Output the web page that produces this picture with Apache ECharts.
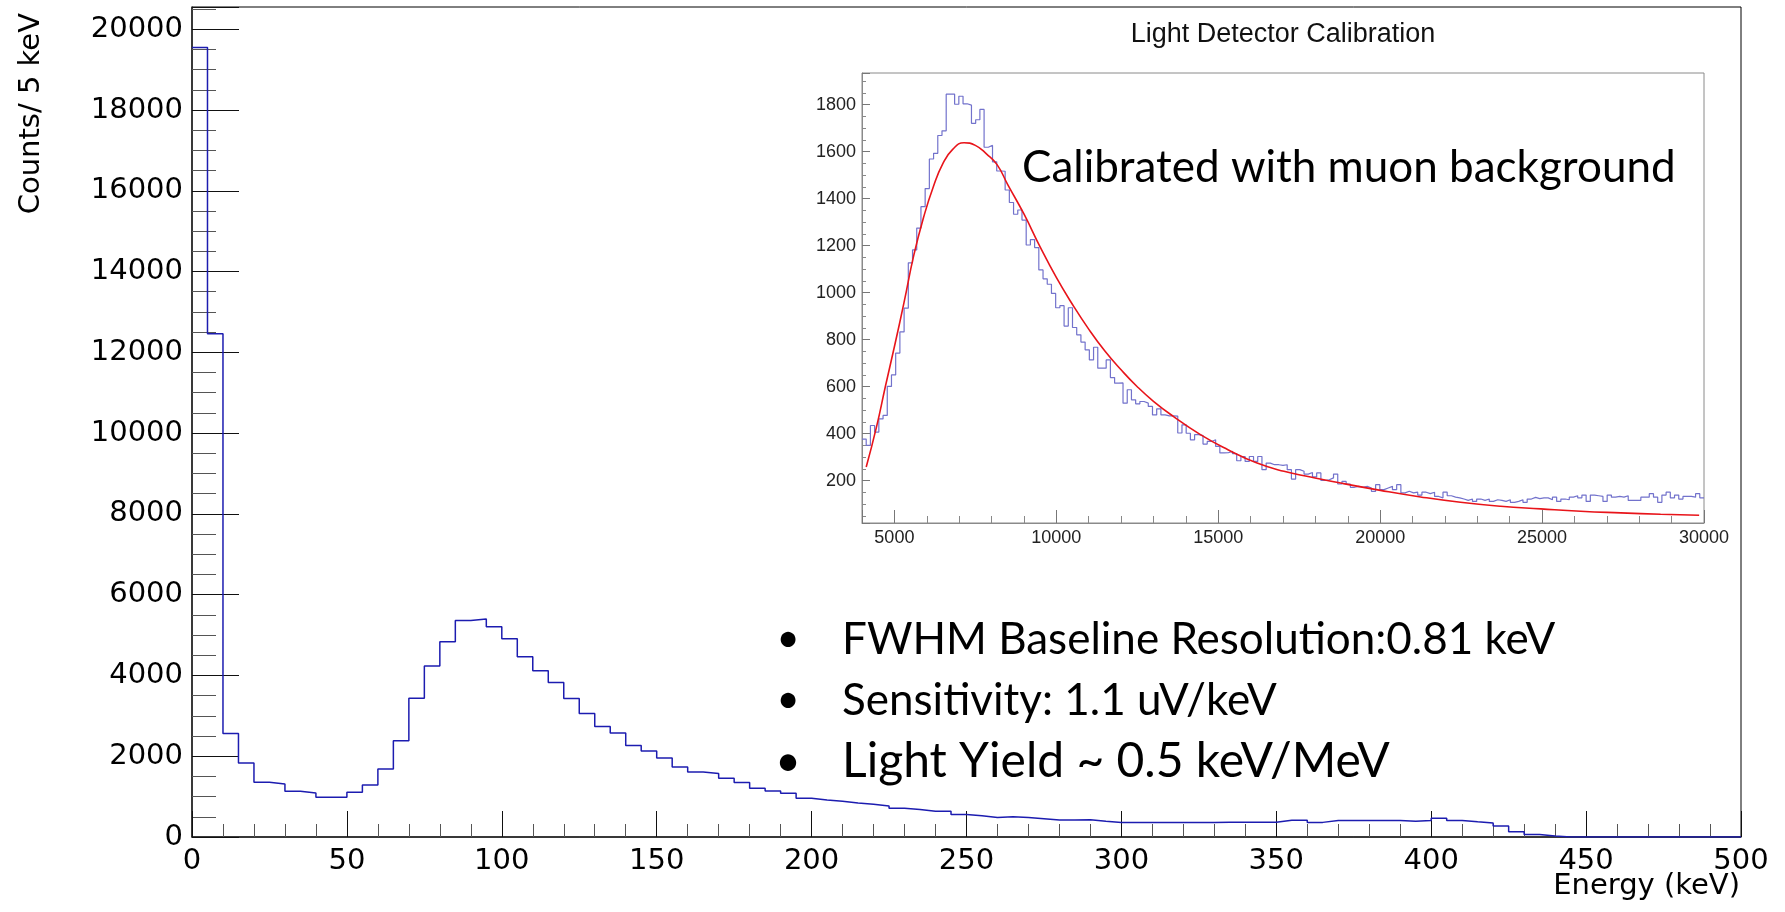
<!DOCTYPE html>
<html>
<head>
<meta charset="utf-8">
<title>Light detector spectrum</title>
<script src="https://cdn.jsdelivr.net/npm/echarts@6/dist/echarts.min.js"></script>
<style>
  html, body { margin: 0; padding: 0; background: #fff; }
  #chart { width: 1785px; height: 912px; }
</style>
</head>
<body>
<div id="chart"></div>
<script>
// main spectrum, counts per 5 keV bin starting at 0 keV
const mainBinStart = 0;
const mainBinWidth = 5;
const mainCounts = [
  19550, 12460, 2560, 1834, 1356, 1314, 1133, 1091, 984, 984,
  1108, 1289, 1682, 2385, 3433, 4234, 4833, 5363, 5400, 5205,
  4906, 4461, 4114, 3826, 3430, 3059, 2736, 2578, 2265, 2132,
  1958, 1735, 1611, 1571, 1455, 1348, 1207, 1140, 1083, 959,
  917, 884, 842, 810, 768, 711, 679, 637, 637, 555,
  525, 481, 500, 481, 450, 420, 420, 430, 389, 357,
  357, 357, 357, 357, 362, 362, 368, 368, 368, 368,
  414, 414, 362, 406, 406, 406, 406, 406, 389, 406,
  465, 410, 375, 345, 275, 130, 60, 25, 0, 0,
  0, 0, 0, 0, 0, 0, 0, 0, 0, 0
];

// inset: light detector calibration spectrum (muons)
const insetBinStart = 4000;
const insetBinWidth = 130;
const insetCounts = [
  377, 350, 435, 407, 463, 478, 601, 650, 743, 833,
  934, 1127, 1182, 1275, 1366, 1443, 1569, 1593, 1669, 1689,
  1845, 1845, 1802, 1836, 1804, 1798, 1721, 1736, 1780, 1619,
  1627, 1557, 1518, 1517, 1437, 1384, 1334, 1352, 1309, 1203,
  1226, 1192, 1097, 1059, 1036, 997, 936, 945, 858, 936,
  852, 821, 790, 757, 714, 768, 679, 679, 714, 639,
  615, 616, 530, 587, 544, 527, 537, 530, 516, 480,
  506, 480, 476, 476, 475, 403, 438, 402, 374, 396,
  392, 356, 367, 374, 346, 318, 319, 325, 315, 285,
  303, 282, 303, 282, 303, 247, 275, 268, 268, 265,
  268, 247, 207, 247, 240, 228, 235, 216, 233, 201,
  204, 212, 228, 186, 197, 186, 172, 176, 172, 176,
  169, 155, 183, 162, 169, 176, 162, 183, 148, 155,
  148, 151, 139, 151, 145, 151, 133, 127, 151, 136,
  130, 127, 122, 116, 122, 112, 122, 116, 122, 112,
  119, 116, 112, 119, 108, 112, 119, 108, 122, 129,
  124, 127, 127, 119, 130, 112, 122, 119, 130, 136,
  127, 139, 112, 139, 136, 133, 112, 139, 130, 133,
  130, 136, 116, 116, 116, 130, 130, 145, 130, 108,
  139, 151, 127, 139, 122, 133, 133, 130, 145, 127
];

// red fit curve
const fitX = [4130, 4450, 4720, 5000, 5300, 5600, 5900, 6200, 6500, 6800,
  7150, 7500, 7850, 8170, 8500, 9000, 9500, 10000, 10500, 11000,
  11500, 12000, 12500, 13000, 13600, 14450, 15300, 16200, 17030, 17850,
  18780, 20010, 21250, 22480, 23720, 24960, 26190, 27430, 28660, 29850];
const fitY = [258, 430, 600, 770, 960, 1160, 1320, 1450, 1550, 1610,
  1638, 1627, 1590, 1545, 1460, 1335, 1195, 1065, 950, 845,
  752, 672, 600, 538, 475, 396, 332, 275, 240, 216,
  190, 159, 131, 108, 91, 80, 70, 63, 57, 53];

const annotations = [
  'FWHM Baseline Resolution:0.81 keV',
  'Sensitivity: 1.1 uV/keV',
  'Light Yield ~ 0.5 keV/MeV'
];

function stepData(start, width, counts) {
  const pts = counts.map((c, i) => [start + i * width, c]);
  pts.push([start + counts.length * width, counts[counts.length - 1]]);
  return pts;
}

const plain = v => String(v);
const mainFont = 'DejaVu Sans';
const insetFont = 'Liberation Sans';
const slideFont = 'Lato';

const chart = echarts.init(document.getElementById('chart'));

chart.setOption({
  animation: false,
  backgroundColor: '#fff',
  grid: [
    { left: 192, top: 7, right: 44, bottom: 75, show: true, borderColor: '#000', borderWidth: 1 },
    { left: 862, top: 73, width: 842, height: 450, show: true, borderColor: '#8a8a8a', borderWidth: 1 }
  ],
  xAxis: [
    {
      gridIndex: 0, type: 'value', min: 0, max: 500, interval: 50,
      axisLine: { lineStyle: { color: '#222', width: 1.5 } },
      axisTick: { inside: true, length: 26, lineStyle: { color: '#111' } },
      minorTick: { show: true, splitNumber: 5, length: 13, lineStyle: { color: '#555' } },
      splitLine: { show: false },
      axisLabel: { color: '#000', fontFamily: mainFont, fontSize: 29, margin: 10, formatter: plain }
    },
    {
      gridIndex: 1, type: 'value', min: 4000, max: 30000, splitNumber: 5,
      axisLine: { lineStyle: { color: '#8a8a8a' } },
      axisTick: { inside: true, length: 13, lineStyle: { color: '#777' } },
      minorTick: { show: true, splitNumber: 5, length: 7, lineStyle: { color: '#888' } },
      splitLine: { show: false },
      axisLabel: { color: '#222', fontFamily: insetFont, fontSize: 18, margin: 6,
        showMinLabel: false, formatter: plain }
    }
  ],
  yAxis: [
    {
      gridIndex: 0, type: 'value', min: 0, max: 20550, interval: 2000,
      axisLine: { show: true, lineStyle: { color: '#222', width: 1.5 } },
      axisTick: { show: true, inside: true, length: 47, lineStyle: { color: '#111' } },
      minorTick: { show: true, splitNumber: 4, length: 24, lineStyle: { color: '#555' } },
      splitLine: { show: false },
      axisLabel: { color: '#000', fontFamily: mainFont, fontSize: 29, margin: 9,
        showMaxLabel: false, formatter: plain }
    },
    {
      gridIndex: 1, type: 'value', min: 20, max: 1935, splitNumber: 10,
      axisLine: { show: true, lineStyle: { color: '#8a8a8a' } },
      axisTick: { show: true, inside: true, length: 8, lineStyle: { color: '#777' } },
      minorTick: { show: true, splitNumber: 4, length: 4, lineStyle: { color: '#888' } },
      splitLine: { show: false },
      axisLabel: { color: '#222', fontFamily: insetFont, fontSize: 18, margin: 6,
        showMinLabel: false, showMaxLabel: false, formatter: plain }
    }
  ],
  series: [
    {
      name: 'spectrum', type: 'line', step: 'end', xAxisIndex: 0, yAxisIndex: 0,
      data: stepData(mainBinStart, mainBinWidth, mainCounts),
      showSymbol: false, symbol: 'none',
      lineStyle: { color: '#1c1cb0', width: 1.5 }
    },
    {
      name: 'muons', type: 'line', step: 'end', xAxisIndex: 1, yAxisIndex: 1,
      data: stepData(insetBinStart, insetBinWidth, insetCounts),
      showSymbol: false, symbol: 'none',
      lineStyle: { color: '#7272cc', width: 1.2 }
    },
    {
      name: 'fit', type: 'line', smooth: true, xAxisIndex: 1, yAxisIndex: 1,
      data: fitX.map((x, i) => [x, fitY[i]]),
      showSymbol: false, symbol: 'none',
      lineStyle: { color: '#e8141a', width: 1.6 }
    }
  ],
  graphic: [
    { type: 'text', x: 31, y: 13, rotation: Math.PI / 2,
      style: { text: 'Counts/ 5 keV', fontFamily: mainFont, fontSize: 29, fill: '#000',
        align: 'right', verticalAlign: 'middle' } },
    { type: 'text', x: 1740, y: 886,
      style: { text: 'Energy (keV)', fontFamily: mainFont, fontSize: 29, fill: '#000',
        align: 'right', verticalAlign: 'middle' } },
    { type: 'text', x: 1283, y: 35,
      style: { text: 'Light Detector Calibration', fontFamily: insetFont, fontSize: 27, fill: '#111',
        align: 'center', verticalAlign: 'middle' } },
    { type: 'text', x: 1022, y: 168,
      style: { text: 'Calibrated with muon background', fontFamily: slideFont, fontSize: 44, fill: '#000',
        align: 'left', verticalAlign: 'middle' } },
    { type: 'text', x: 788, y: 639, style: { text: '•', fontFamily: slideFont, fontSize: 40, fill: '#000', align: 'center', verticalAlign: 'middle' } },
    { type: 'text', x: 788, y: 700, style: { text: '•', fontFamily: slideFont, fontSize: 40, fill: '#000', align: 'center', verticalAlign: 'middle' } },
    { type: 'text', x: 788, y: 762, style: { text: '•', fontFamily: slideFont, fontSize: 44, fill: '#000', align: 'center', verticalAlign: 'middle' } },
    { type: 'text', x: 842, y: 640,
      style: { text: annotations[0], fontFamily: slideFont, fontSize: 44, fill: '#000', align: 'left', verticalAlign: 'middle' } },
    { type: 'text', x: 842, y: 701,
      style: { text: annotations[1], fontFamily: slideFont, fontSize: 44, fill: '#000', align: 'left', verticalAlign: 'middle' } },
    { type: 'text', x: 842, y: 762,
      style: { text: annotations[2], fontFamily: slideFont, fontSize: 48, fill: '#000', align: 'left', verticalAlign: 'middle' } }
  ]
});
</script>
</body>
</html>
